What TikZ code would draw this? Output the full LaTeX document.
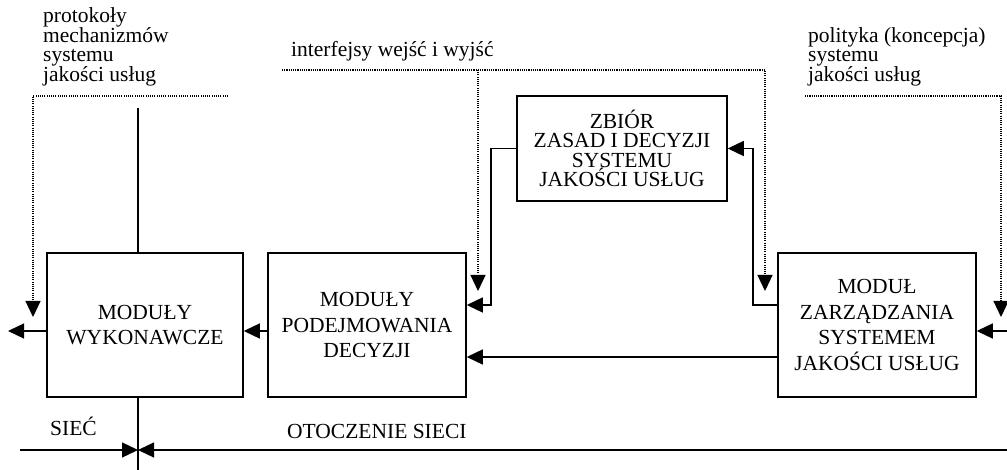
\documentclass[tikz,border=0pt]{standalone}
\usepackage{fontspec}
\setmainfont{Liberation Serif}
\usetikzlibrary{arrows.meta}
\begin{document}
\begin{tikzpicture}[x=1pt,y=-1pt,
  every node/.style={inner sep=0pt},
  modbox/.style={draw,line width=1.5pt,align=center,
    font=\fontsize{21.5}{25.5}\selectfont},
  lbl/.style={align=left,anchor=base west,
    font=\fontsize{21.5}{18.5}\selectfont},
  conn/.style={line width=1.3pt},
  arr/.style={conn,-{Triangle[length=16pt,width=15pt]}},
  dotline/.style={line width=1.2pt,dash pattern=on 1.1pt off 1.1pt},
  dotarr/.style={dotline,-{Triangle[length=16pt,width=15pt]}}]
\useasboundingbox (0,0) rectangle (1007,470);

% modules
\node[modbox,minimum width=196pt,minimum height=144pt] (m1) at (145,325)
  {MODUŁY\\WYKONAWCZE};
\node[modbox,minimum width=198pt,minimum height=144pt] (m2) at (367,325)
  {MODUŁY\\PODEJMOWANIA\\DECYZJI};
\node[modbox,minimum width=210pt,minimum height=105pt,
  font=\fontsize{21.5}{19.5}\selectfont] (m3) at (622,148.5)
  {ZBIÓR\\ZASAD I DECYZJI\\SYSTEMU\\JAKOŚCI USŁUG};
\node[modbox,minimum width=198pt,minimum height=144pt] (m4) at (877,325)
  {MODUŁ\\ZARZĄDZANIA\\SYSTEMEM\\JAKOŚCI USŁUG};

% labels (anchored at the baseline of their last line)
\node[lbl] (lproto) at (43,82) {protokoły\\mechanizmów\\systemu\\jakości usług};
\node[lbl] (linter) at (291,57) {interfejsy wejść i wyjść};
\node[lbl] (lpolit) at (808,82) {polityka (koncepcja)\\systemu\\jakości usług};
\node[lbl] (lsiec) at (50,435) {SIEĆ};
\node[lbl] (lotocz) at (287,438) {OTOCZENIE SIECI};

% helper coordinates
\coordinate (outL) at (8,331);
\coordinate (inR) at (1007,331);
\coordinate (y305) at (0,305);
\coordinate (y357) at (0,357);
\coordinate (loopL) at (491,0);
\coordinate (loopR) at (753,0);
\coordinate (axTop) at (138,108);
\coordinate (axBot) at (138,470);
\coordinate (axMid) at (138,450);
\coordinate (netL) at (20,450);
\coordinate (netR) at (1007,450);

% signal connectors
\draw[arr] (m1.west |- outL) -- (outL);
\draw[arr] (m2.west |- outL) -- (m1.east |- outL);
\draw[arr] (inR) -- (m4.east |- inR);
\draw[arr] (m3.west) -- (loopL |- m3.west) -- (loopL |- y305) -- (m2.east |- y305);
\draw[arr] (m4.west |- y305) -- (loopR |- y305) -- (loopR |- m3.east) -- (m3.east);
\draw[arr] (m4.west |- y357) -- (m2.east |- y357);

% network boundary
\draw[conn] (axTop) -- (axTop |- m1.north);
\draw[conn] (axTop |- m1.south) -- (axBot);
\draw[arr] (netL) -- (axMid);
\draw[arr] (netR) -- (axMid);

% dotted pointers
\coordinate (pA) at (228,96);
\coordinate (pB) at (33,96);
\coordinate (pC) at (33,317);
\draw[dotarr] (pA) -- (pB) -- (pC);
\coordinate (iA) at (282,70);
\coordinate (iB) at (765,70);
\coordinate (iC) at (765,291);
\coordinate (iD) at (478,70);
\coordinate (iE) at (478,291);
\draw[dotarr] (iA) -- (iB) -- (iC);
\draw[dotarr] (iD) -- (iE);
\coordinate (qA) at (805,96);
\coordinate (qB) at (1001,96);
\coordinate (qC) at (1001,317);
\draw[dotarr] (qA) -- (qB) -- (qC);
\end{tikzpicture}
\end{document}
